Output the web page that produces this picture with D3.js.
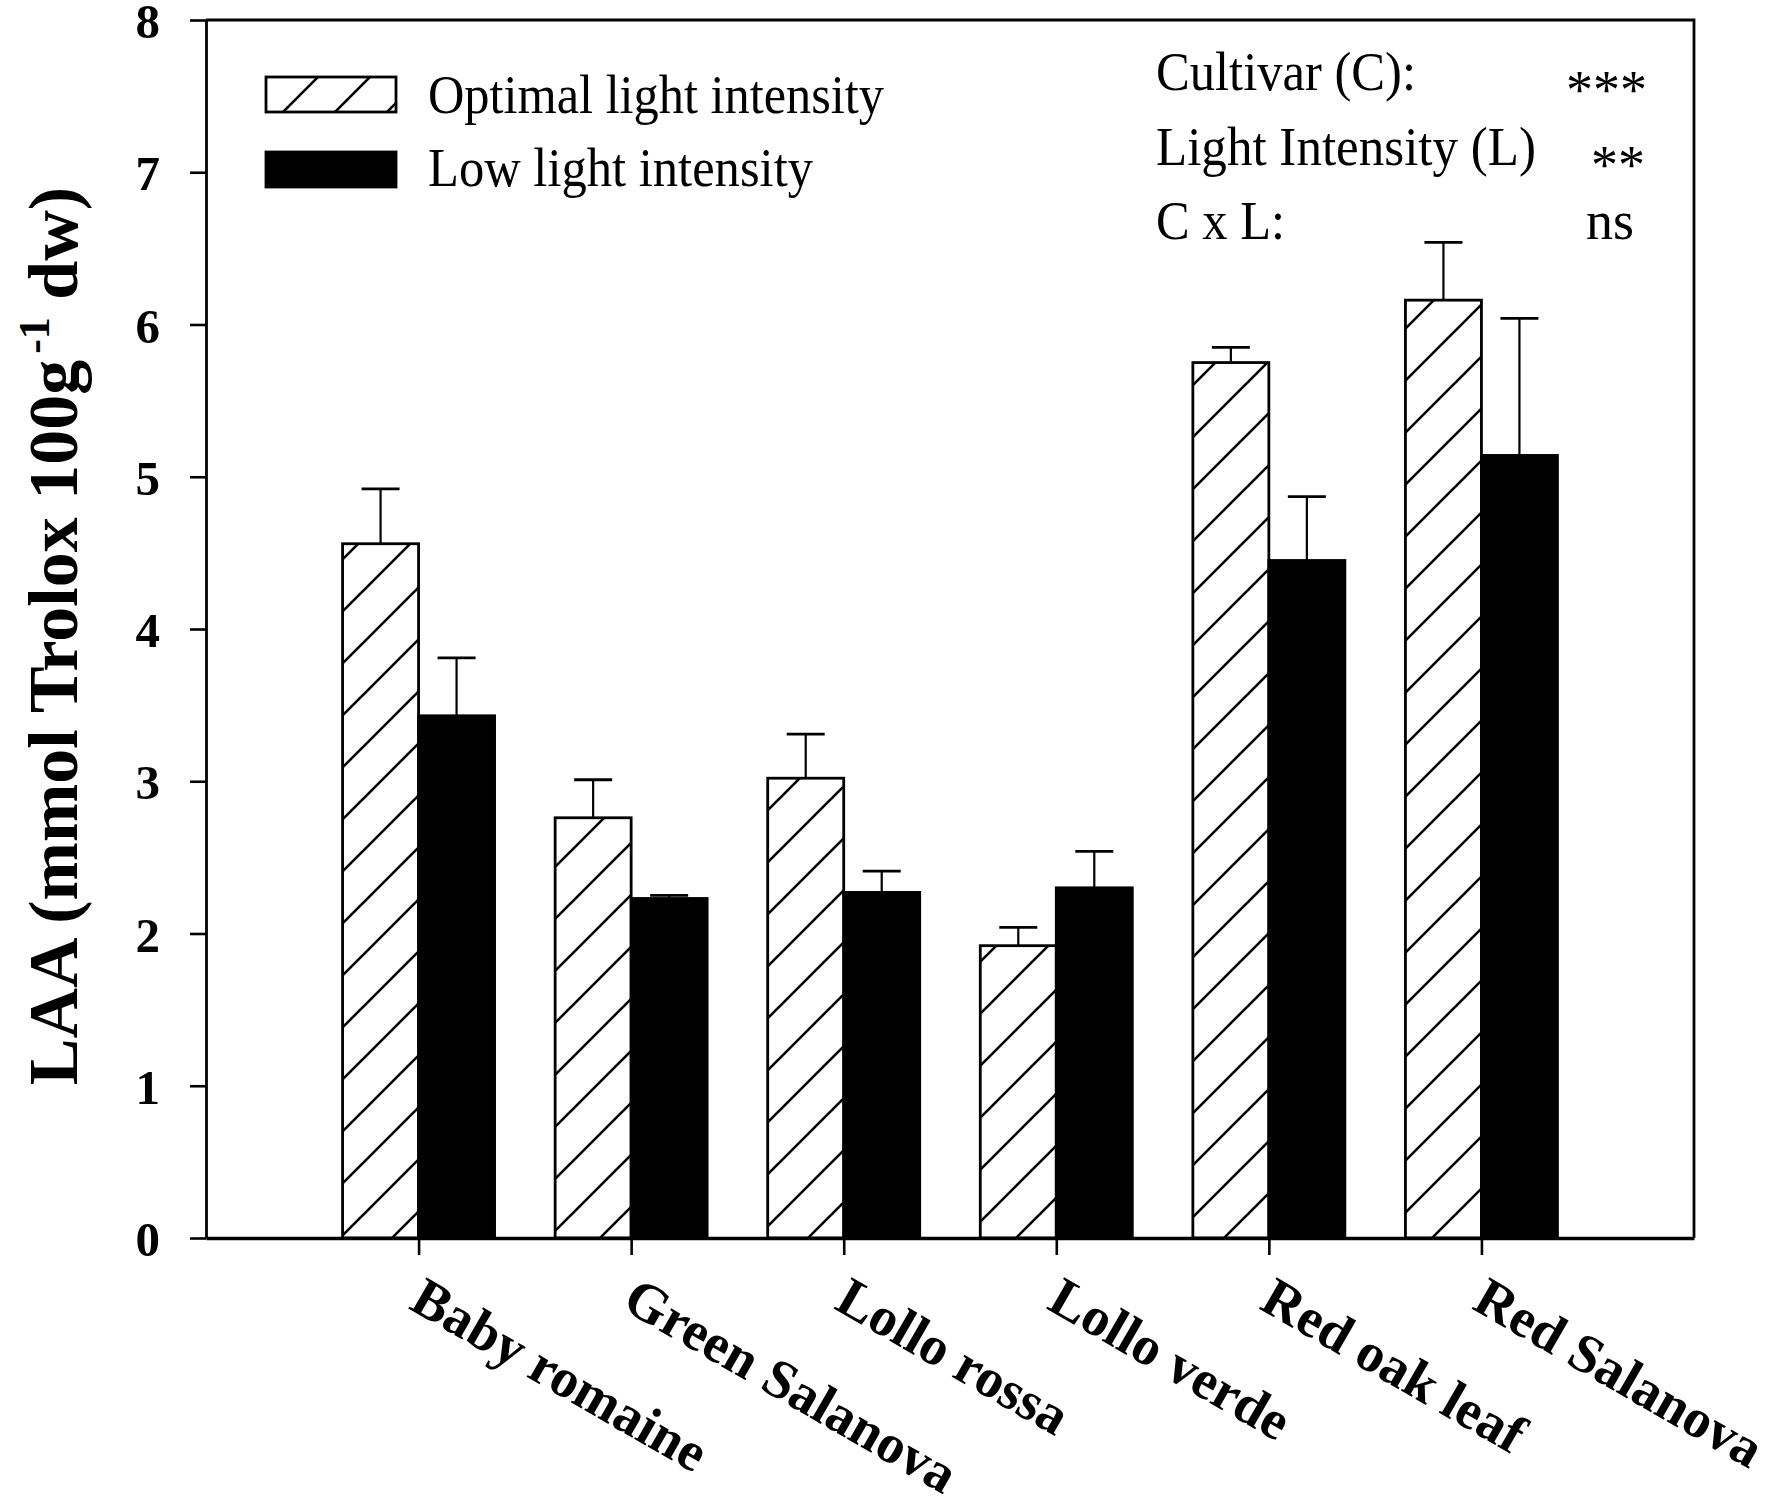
<!DOCTYPE html>
<html>
<head>
<meta charset="utf-8">
<script src="https://cdn.jsdelivr.net/npm/d3@7"></script>
<style>
  body { margin: 0; background: #fff; }
  text { font-family: "Liberation Serif", "Times New Roman", serif; fill: #000; }
</style>
</head>
<body>
<div id="chart"></div>
<script>
// cultivars and the two light treatments
var cultivars = ["Baby romaine", "Green Salanova", "Lollo rossa", "Lollo verde", "Red oak leaf", "Red Salanova"];
var optimalMean = [4.56, 2.76, 3.02, 1.92, 5.75, 6.16];
var optimalSE = [0.36, 0.25, 0.29, 0.12, 0.10, 0.38];
var lowMean = [3.43, 2.23, 2.27, 2.30, 4.45, 5.14];
var lowSE = [0.38, 0.02, 0.14, 0.24, 0.42, 0.90];
var yTicks = [0, 1, 2, 3, 4, 5, 6, 7, 8];
var legendLabels = ["Optimal light intensity", "Low light intensity"];
var statLabels = ["Cultivar (C):", "Light Intensity (L)", "C x L:"];
var statMarks = ["***", "**", "ns"];

var svgWidth = 1765;
var svgHeight = 1504;

var margin = { top: 20, right: 71, bottom: 266, left: 206 };
var width = svgWidth - margin.left - margin.right;
var height = svgHeight - margin.top - margin.bottom;

var svg = d3.select("#chart")
  .append("svg")
  .attr("width", svgWidth)
  .attr("height", svgHeight);

// hatch pattern for the optimal light bars
var defs = svg.append("defs");
var hatch = defs.append("pattern")
  .attr("id", "hatch")
  .attr("patternUnits", "userSpaceOnUse")
  .attr("width", 52)
  .attr("height", 52);
hatch.append("rect").attr("width", 52).attr("height", 52).attr("fill", "#fff");
hatch.append("path")
  .attr("d", "M-13,13 L13,-13 M0,52 L52,0 M39,65 L65,39")
  .attr("stroke", "#000")
  .attr("stroke-width", 2.6);

var chartGroup = svg.append("g")
  .attr("transform", `translate(${margin.left}, ${margin.top})`);

// scales
var yScale = d3.scaleLinear().domain([0, 8]).range([height, 0]);
var xScale = d3.scalePoint().domain(cultivars).range([0, width]).padding(1);
var subScale = d3.scaleBand().domain(["optimal", "low"]).range([-76, 76]);

var series = [
  { key: "optimal", mean: optimalMean, se: optimalSE, fill: "url(#hatch)" },
  { key: "low", mean: lowMean, se: lowSE, fill: "#000" }
];

// bars
series.forEach(function(s) {
  var rows = cultivars.map((c, i) => ({ c: c, m: s.mean[i], e: s.se[i] }));
  var g = chartGroup.append("g");

  // error bars (upper only)
  g.selectAll("line.err")
    .data(rows)
    .enter()
    .append("line")
    .attr("x1", d => xScale(d.c) + subScale(s.key) + subScale.bandwidth() / 2)
    .attr("x2", d => xScale(d.c) + subScale(s.key) + subScale.bandwidth() / 2)
    .attr("y1", d => yScale(d.m))
    .attr("y2", d => yScale(d.m + d.e))
    .attr("stroke", "#000")
    .attr("stroke-width", 2.2);

  g.selectAll("line.cap")
    .data(rows)
    .enter()
    .append("line")
    .attr("x1", d => xScale(d.c) + subScale(s.key) + subScale.bandwidth() / 2 - 19)
    .attr("x2", d => xScale(d.c) + subScale(s.key) + subScale.bandwidth() / 2 + 19)
    .attr("y1", d => yScale(d.m + d.e))
    .attr("y2", d => yScale(d.m + d.e))
    .attr("stroke", "#000")
    .attr("stroke-width", 2.8);

  g.selectAll("rect")
    .data(rows)
    .enter()
    .append("rect")
    .attr("x", d => xScale(d.c) + subScale(s.key))
    .attr("y", d => yScale(d.m))
    .attr("width", subScale.bandwidth())
    .attr("height", d => yScale(0) - yScale(d.m))
    .attr("fill", s.fill)
    .attr("stroke", "#000")
    .attr("stroke-width", 2.8);
});

// frame (top and right)
chartGroup.append("path")
  .attr("d", `M0,0 H${width} V${height}`)
  .attr("fill", "none")
  .attr("stroke", "#000")
  .attr("stroke-width", 2.8);

// y axis
var leftAxis = d3.axisLeft(yScale)
  .tickValues(yTicks)
  .tickSize(16)
  .tickSizeOuter(0)
  .tickPadding(30);

var yAxis = chartGroup.append("g").call(leftAxis);
yAxis.select(".domain").attr("stroke-width", 2.8);
yAxis.selectAll(".tick line").attr("stroke-width", 2.6);
yAxis.selectAll(".tick text")
  .attr("font-family", "Liberation Serif")
  .attr("font-weight", "bold")
  .attr("font-size", 49)
  .attr("dy", "0.36em");

// x axis
var bottomAxis = d3.axisBottom(xScale)
  .tickSize(17)
  .tickSizeOuter(0)
  .tickFormat("");

var xAxis = chartGroup.append("g")
  .attr("transform", `translate(0, ${height})`)
  .call(bottomAxis);
xAxis.select(".domain").attr("stroke-width", 3.6);
xAxis.selectAll(".tick line").attr("stroke-width", 2.6);

// rotated cultivar labels
chartGroup.append("g")
  .selectAll("text")
  .data(cultivars)
  .enter()
  .append("text")
  .attr("transform", d => `translate(${xScale(d) - 11}, ${height + 70}) rotate(30)`)
  .attr("font-weight", "bold")
  .attr("font-size", 55)
  .text(d => d);

// y axis title
var yTitle = chartGroup.append("text")
  .attr("transform", `translate(${77 - margin.left}, ${616}) rotate(-90)`)
  .attr("text-anchor", "middle")
  .attr("font-weight", "bold")
  .attr("font-size", 70);
yTitle.append("tspan").text("LAA (mmol Trolox 100g");
yTitle.append("tspan").attr("font-size", 44).attr("dy", -28).attr("dx", 6).text("-1");
yTitle.append("tspan").attr("dy", 28).text(" dw)");

// legend
var legend = chartGroup.append("g").attr("transform", `translate(${266 - margin.left}, ${77 - margin.top})`);
legend.selectAll("rect")
  .data(series)
  .enter()
  .append("rect")
  .attr("x", 0)
  .attr("y", (d, i) => i * 75)
  .attr("width", 130)
  .attr("height", 35)
  .attr("fill", d => d.fill)
  .attr("stroke", "#000")
  .attr("stroke-width", 2.8);

var legendWidths = [456, 385];
legend.selectAll("text")
  .data(legendLabels)
  .enter()
  .append("text")
  .attr("x", 162)
  .attr("y", (d, i) => 36 + i * 73)
  .attr("font-size", 54)
  .attr("textLength", (d, i) => legendWidths[i])
  .attr("lengthAdjust", "spacingAndGlyphs")
  .text(d => d);

// ANOVA summary
var stats = chartGroup.append("g").attr("transform", `translate(${1156 - margin.left}, ${90 - margin.top})`);
var statWidths = [260, 380, 129];
stats.selectAll("text.lab")
  .data(statLabels)
  .enter()
  .append("text")
  .attr("x", 0)
  .attr("y", (d, i) => i * 74.5)
  .attr("font-size", 54)
  .attr("textLength", (d, i) => statWidths[i])
  .attr("lengthAdjust", "spacingAndGlyphs")
  .text(d => d);

var markRight = [491, 489, 478];
var markShift = [18, 18, 0];
stats.selectAll("text.mark")
  .data(statMarks)
  .enter()
  .append("text")
  .attr("x", (d, i) => markRight[i])
  .attr("y", (d, i) => i * 74.5 + markShift[i])
  .attr("text-anchor", "end")
  .attr("font-size", 54)
  .text(d => d);
</script>
</body>
</html>
